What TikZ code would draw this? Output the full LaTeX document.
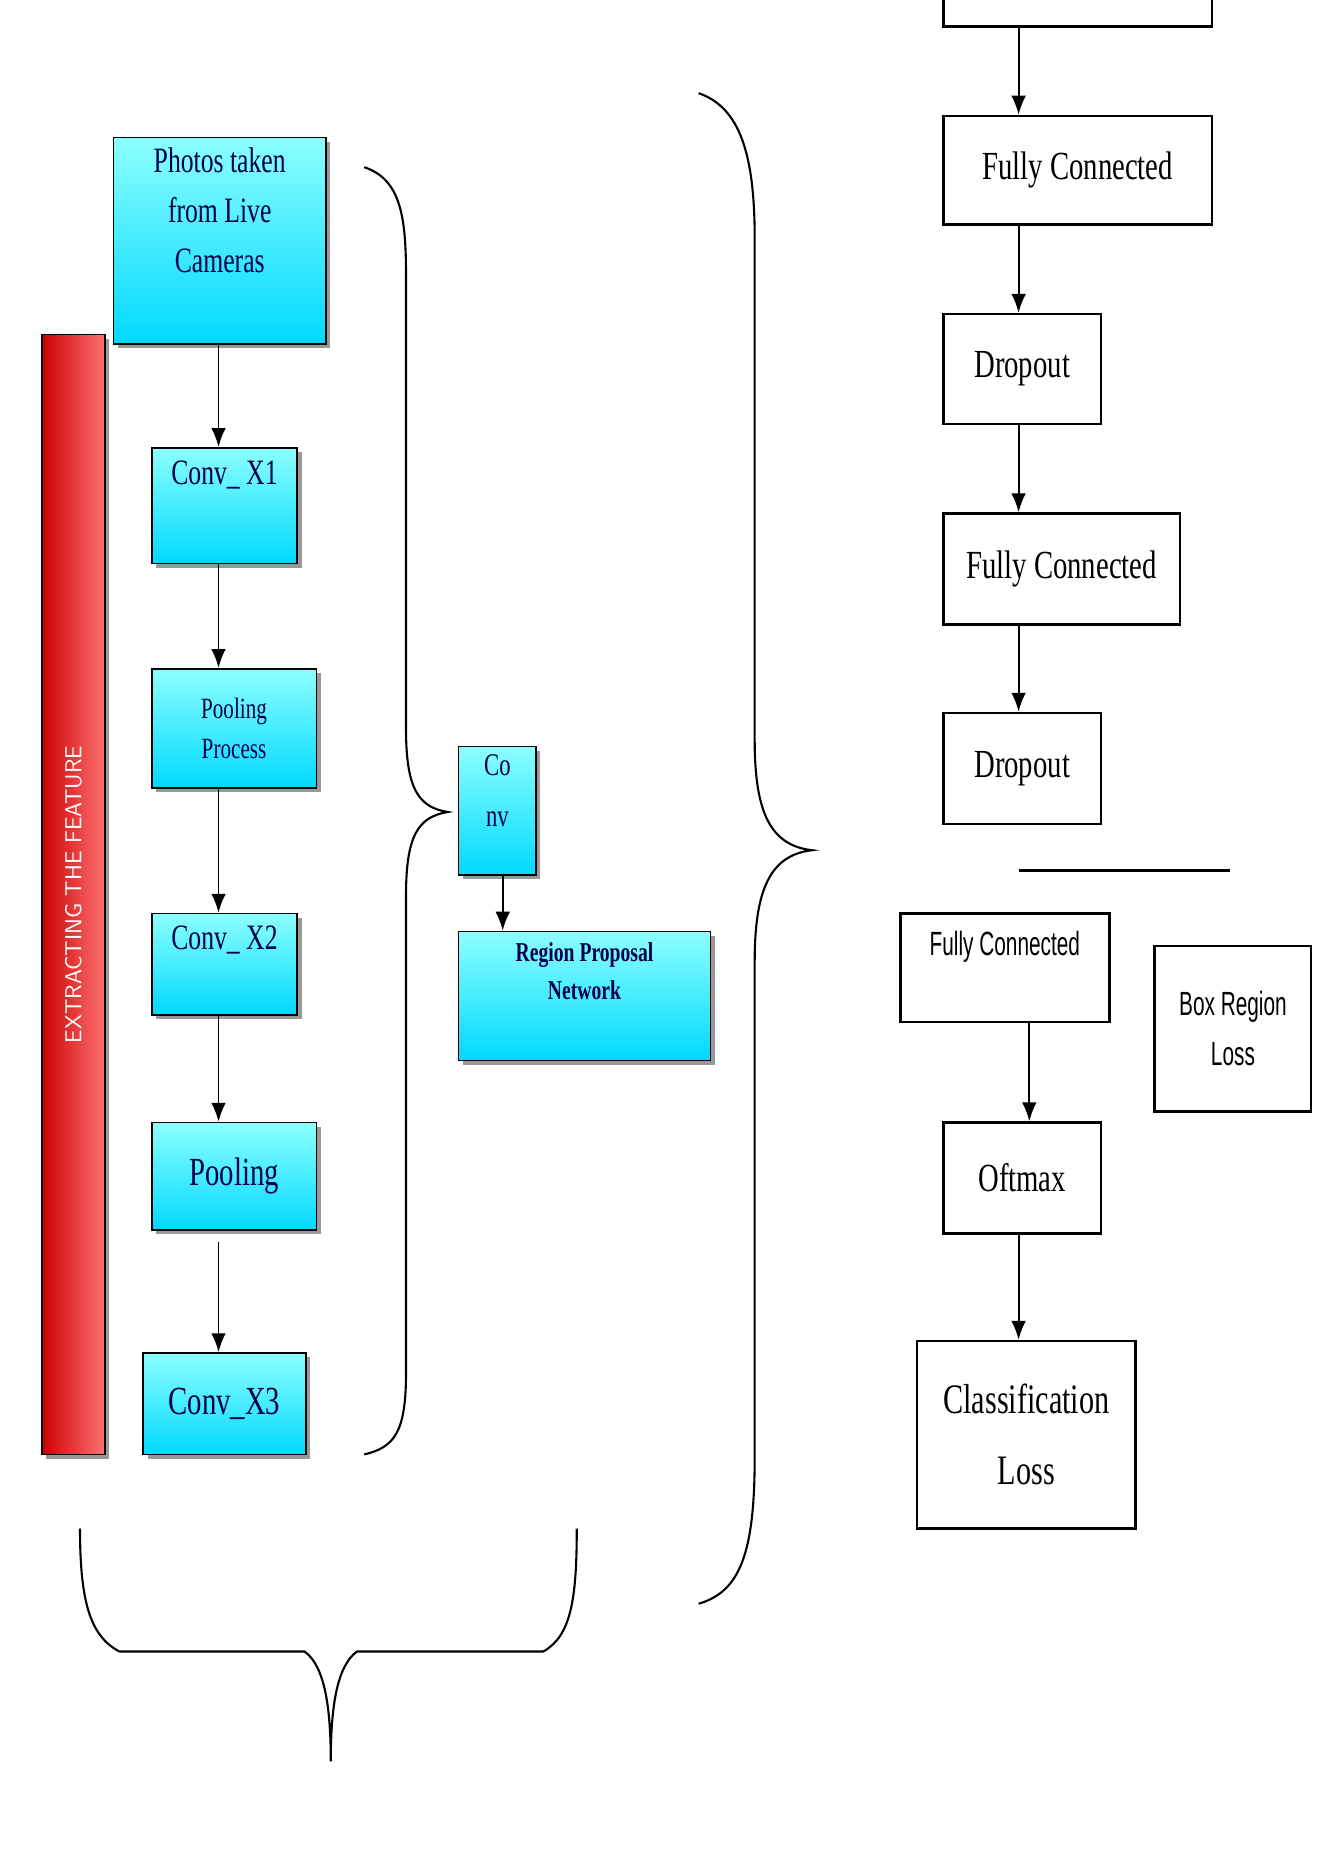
\documentclass[tikz,border=0pt]{standalone}
\usepackage{fontspec}
\setmainfont{Liberation Serif}
\newfontfamily\narrowfont{Liberation Serif}[FakeStretch=0.72]
\newfontfamily\narrowsans{Liberation Sans}[FakeStretch=0.62]
\usetikzlibrary{positioning,shadows,arrows.meta}
\begin{document}
\begin{tikzpicture}[x=0.02cm,y=-0.02cm,>={Latex[length=9pt,width=7pt]},
  plain box/.style={draw, line width=1.2pt, fill=white, font=\narrowfont\fontsize{19}{26}\selectfont, align=center, inner sep=0pt},
  cyan box/.style={draw, line width=0.8pt, top color=cyan!45, bottom color=cyan!85!blue, drop shadow={shadow xshift=2pt,shadow yshift=-2pt,fill=black!80}, text=blue!30!black, font=\narrowfont\fontsize{17}{24}\selectfont, align=center, inner sep=0pt},
  flow/.style={->, line width=0.9pt},
  brace/.style={line width=1pt}]
  \useasboundingbox (0,0) rectangle (1117,1566);
  % right column
  \draw[line width=1.2pt] (790,-10) -- (790,22) -- (1015,22) -- (1015,-10);
  \coordinate (topb) at (853,22);
  \node[plain box, minimum width=4.5cm, minimum height=1.82cm] (fc1) at (902.5,142.5) {Fully Connected};
  \node[plain box, minimum width=2.64cm, minimum height=1.84cm] (drop1) at (856,309) {Dropout};
  \node[plain box, minimum width=3.96cm, minimum height=1.86cm] (fc2) at (889,476.5) {Fully Connected};
  \node[plain box, minimum width=2.64cm, minimum height=1.86cm] (drop2) at (856,643.5) {Dropout};
  \coordinate (sepl) at (853,729);
  \coordinate (sepr) at (1030,729);
  \draw[line width=1.2pt] (sepl) -- (sepr);
  \node[plain box, font=\narrowsans\fontsize{16}{24}\selectfont, minimum width=3.5cm, minimum height=1.82cm] (fc3) at (841.5,810.5) {Fully Connected\\[-8pt]\strut};
  \node[plain box, font=\narrowsans\fontsize{16}{24}\selectfont, minimum width=2.62cm, minimum height=2.78cm] (boxloss) at (1032.5,861.5) {Box Region\\Loss};
  \node[plain box, minimum width=2.64cm, minimum height=1.86cm] (softmax) at (856,986.5) {Oftmax};
  \node[plain box, minimum width=3.66cm, minimum height=3.14cm, font=\narrowfont\fontsize{20}{34}\selectfont] (closs) at (859.5,1201.5) {Classification\\Loss};
  \draw[flow] (topb) -- (fc1.north -| topb);
  \draw[flow] (fc1.south -| topb) -- (drop1.north -| topb);
  \draw[flow] (drop1.south -| topb) -- (fc2.north -| topb);
  \draw[flow] (fc2.south -| topb) -- (drop2.north -| topb);
  \draw[flow] (862,856) -- (softmax.north -| 862,0);
  \draw[flow] (softmax.south -| topb) -- (closs.north -| topb);
  % left column
  \node[cyan box, minimum width=3.56cm, minimum height=3.46cm] (photos) at (184,201.5) {Photos taken\\from Live\\Cameras\\[-2pt]\strut};
  \node[cyan box, minimum width=2.44cm, minimum height=1.94cm] (conv1) at (188,423.5) {Conv\_ X1\\\strut};
  \node[cyan box, minimum width=2.76cm, minimum height=2cm, font=\narrowfont\fontsize{14}{19}\selectfont] (pool1) at (196,610) {Pooling\\Process};
  \node[cyan box, minimum width=2.44cm, minimum height=1.7cm] (conv2) at (188,807.5) {Conv\_ X2\\[-6pt]\strut};
  \node[cyan box, minimum width=2.76cm, minimum height=1.8cm, font=\narrowfont\fontsize{19}{24}\selectfont] (pool2) at (196,985) {Pooling};
  \node[cyan box, minimum width=2.72cm, minimum height=1.7cm, font=\narrowfont\fontsize{19}{24}\selectfont] (conv3) at (188,1175.5) {Conv\_X3};
  \coordinate (lx) at (183,0);
  \draw[flow] (photos.south -| lx) -- (conv1.north -| lx);
  \draw[flow] (conv1.south -| lx) -- (pool1.north -| lx);
  \draw[flow] (pool1.south -| lx) -- (conv2.north -| lx);
  \draw[flow] (conv2.south -| lx) -- (pool2.north -| lx);
  \draw[flow] (183,1040) -- (conv3.north -| lx);
  \node[draw, line width=0.8pt, left color=red!80!black, right color=red!55!white, drop shadow={shadow xshift=2pt,shadow yshift=-2pt,fill=black!80}, minimum width=18.76cm, minimum height=1.06cm, rotate=90, text=white, font=\sffamily\fontsize{11}{13}\selectfont] (bar) at (61.5,749) {EXTRACTING THE FEATURE};
  % middle
  \node[cyan box, minimum width=1.3cm, minimum height=2.16cm, font=\narrowfont\fontsize{15}{24}\selectfont] (conv) at (416.5,679) {Co\\nv\\[-12pt]\strut};
  \node[cyan box, minimum width=4.22cm, minimum height=2.16cm, font=\narrowfont\bfseries\fontsize{13}{18}\selectfont] (rpn) at (489.5,834) {Region Proposal\\Network\\\strut};
  \draw[flow] (421,733) -- (rpn.north -| 421,0);
  % braces
  \draw[brace] (305,140) .. controls (335,150) and (340,180) .. (340,230) -- (340,610) .. controls (340,660) and (350,676) .. (375,680) .. controls (350,684) and (340,700) .. (340,750) -- (340,1150) .. controls (340,1200) and (330,1212) .. (305,1218);
  \draw[brace] (585,78) .. controls (620,90) and (632,130) .. (632,200) -- (632,620) .. controls (632,680) and (645,708) .. (680,712) .. controls (645,716) and (632,745) .. (632,805) -- (632,1220) .. controls (632,1300) and (620,1333) .. (585,1343);
  \draw[brace] (67,1280) .. controls (67,1340) and (75,1370) .. (100,1383) -- (255,1383) .. controls (272,1395) and (277,1430) .. (277,1475) .. controls (277,1430) and (282,1395) .. (299,1383) -- (455,1383) .. controls (478,1370) and (483,1340) .. (483,1280);
\end{tikzpicture}
\end{document}
